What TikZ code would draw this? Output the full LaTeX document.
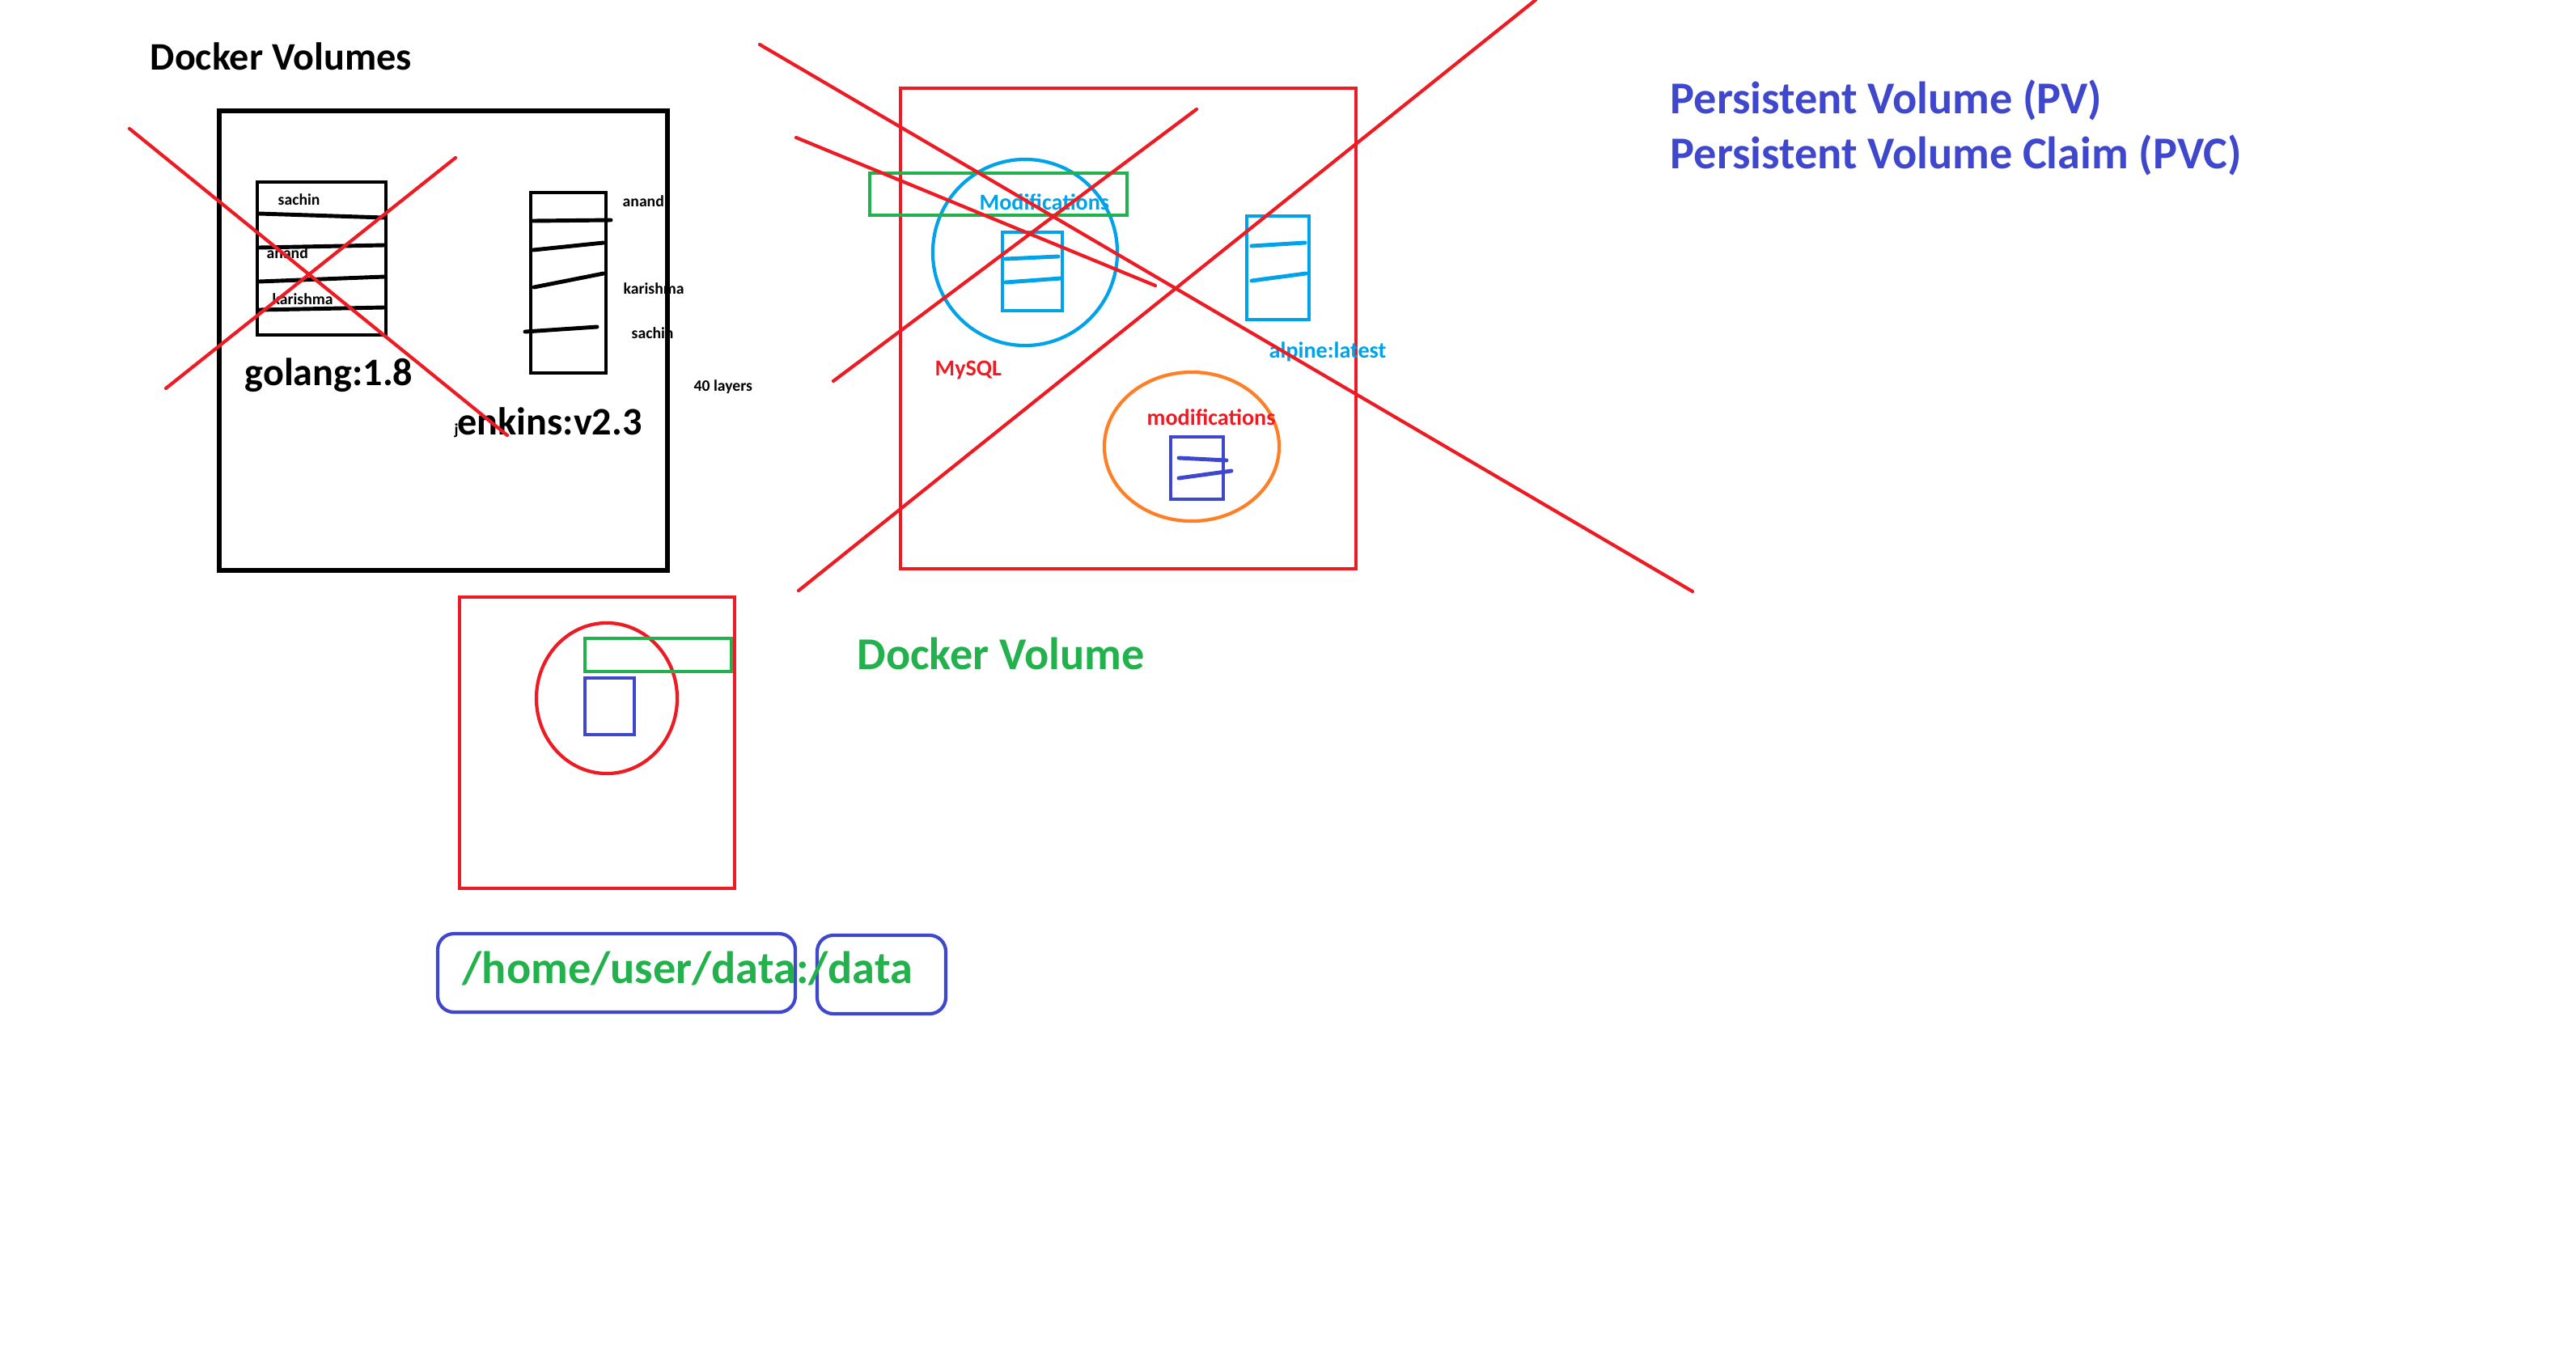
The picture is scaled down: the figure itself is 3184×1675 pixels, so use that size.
\documentclass[tikz,border=0pt]{standalone}
\usepackage{fontspec}
\setmainfont{Carlito}
\usepackage{tikz}
\usetikzlibrary{shapes.geometric}
\usetikzlibrary{positioning}

\definecolor{pred}{HTML}{ED1C24}
\definecolor{pgreen}{HTML}{22B14C}
\definecolor{pblue}{HTML}{3F48CC}
\definecolor{pcyan}{HTML}{00A2E8}
\definecolor{porange}{HTML}{FF7F27}

\begin{document}
\begin{tikzpicture}[x=0.01cm,y=-0.01cm,
                    box/.style={draw,line width=1.5pt},
                    cross/.style={draw=pred,line width=1.2pt,line cap=round},
                    layer/.style={line width=1.4pt,line cap=round},
                    oval/.style={ellipse,draw,line width=1.2pt,inner sep=0pt},
                    tiny tag/.style={anchor=base west,inner sep=0pt,font=\fontsize{5.6}{7}\selectfont\bfseries},
                    mid tag/.style={anchor=base west,inner sep=0pt,font=\fontsize{8}{10}\selectfont\bfseries},
                    big tag/.style={anchor=base west,inner sep=0pt,font=\fontsize{13.7}{16}\selectfont\bfseries},
                    huge tag/.style={anchor=base west,inner sep=0pt,font=\fontsize{16}{19}\selectfont\bfseries}]

  \useasboundingbox (0,0) rectangle (3184,1675);

  \node[big tag] (title) at (185,86) {Docker Volumes};

  \draw[box] (271,137) rectangle (825,705);

  \draw[box,line width=1.3pt] (318,225) rectangle (477,414);
  \draw[layer] (320,264) -- (475,269);
  \draw[layer] (320,306) -- (475,303);
  \draw[layer] (320,348) -- (475,342);
  \draw[layer] (320,383) -- (475,380);
  \node[tiny tag] (sachin1) at (343,253) {sachin};
  \node[tiny tag] (anand1) at (329,319) {anand};
  \node[tiny tag] (karishma1) at (336,376) {karishma};
  \node[big tag] (golang) at (302,476) {golang:1.8};

  \draw[box,line width=1.3pt] (656,238) rectangle (749,461);
  \draw[layer] (659,273) -- (755,272);
  \draw[layer] (659,309) -- (746,300);
  \draw[layer] (660,355) -- (746,338);
  \draw[layer] (649,410) -- (738,404);
  \node[tiny tag] (anand2) at (769,255) {anand};
  \node[tiny tag] (karishma2) at (770,363) {karishma};
  \node[tiny tag] (sachin2) at (780,418) {sachin};
  \node[tiny tag] (layers) at (857,483) {40 layers};
  \node[tiny tag] (j) at (561,537) {j};
  \node[big tag] (jenkins) at (565,537) {enkins:v2.3};

  \draw[cross] (160,159) -- (627,538);
  \draw[cross] (205,480) -- (563,195);

  \draw[box,draw=pred,line width=1.4pt] (1113,109) rectangle (1676,703);
  \node[oval,draw=pcyan,minimum width=2.28cm,minimum height=2.30cm] (mysql) at (1267,312) {};
  \draw[line width=1.2pt,draw=pgreen] (1075,214) rectangle (1393,266);
  \node[mid tag,text=pcyan] (mods) at (1210,259) {Modifications};
  \draw[line width=1.2pt,draw=pcyan] (1239,287) rectangle (1313,384);
  \draw[layer,pcyan] (1243,320) -- (1308,317);
  \draw[layer,pcyan] (1243,349) -- (1311,344);
  \node[mid tag,text=pred] (mysqltag) at (1155,464) {MySQL};

  \draw[line width=1.2pt,draw=pcyan] (1541,267) rectangle (1618,395);
  \draw[layer,pcyan] (1547,304) -- (1613,300);
  \draw[layer,pcyan] (1547,347) -- (1614,338);
  \node[mid tag,text=pcyan] (alpine) at (1568,442) {alpine:latest};

  \node[oval,draw=porange,minimum width=2.16cm,minimum height=1.84cm] (modsoval) at (1473,552) {};
  \node[mid tag,text=pred] (modstag) at (1417,525) {modifications};
  \draw[line width=1.2pt,draw=pblue] (1447,540) rectangle (1512,617);
  \draw[layer,pblue] (1457,566) -- (1516,569);
  \draw[layer,pblue] (1457,591) -- (1522,582);

  \draw[cross] (939,55) -- (2092,731);
  \draw[cross] (987,730) -- (1898,0);
  \draw[cross] (984,170) -- (1428,353);
  \draw[cross] (1030,471) -- (1479,135);

  \node[huge tag,text=pblue] (pv) at (2064,140) {Persistent Volume (PV)};
  \node[huge tag,text=pblue] (pvc) at (2064,208) {Persistent Volume Claim (PVC)};

  \draw[box,draw=pred,line width=1.4pt] (568,738) rectangle (908,1098);
  \node[oval,draw=pred,minimum width=1.74cm,minimum height=1.86cm] (container) at (750,863) {};
  \draw[line width=1.2pt,draw=pgreen] (723,789) rectangle (904,830);
  \draw[line width=1.2pt,draw=pblue] (723,838) rectangle (784,908);
  \node[huge tag,text=pgreen] (dvol) at (1059,827) {Docker Volume};

  \draw[line width=1.2pt,draw=pblue,rounded corners=0.2cm] (541,1154) rectangle (983,1251);
  \draw[line width=1.2pt,draw=pblue,rounded corners=0.2cm] (1010,1156) rectangle (1169,1253);
  \node[huge tag,text=pgreen] (mount) at (571,1215) {/home/user/data:/data};

\end{tikzpicture}
\end{document}
